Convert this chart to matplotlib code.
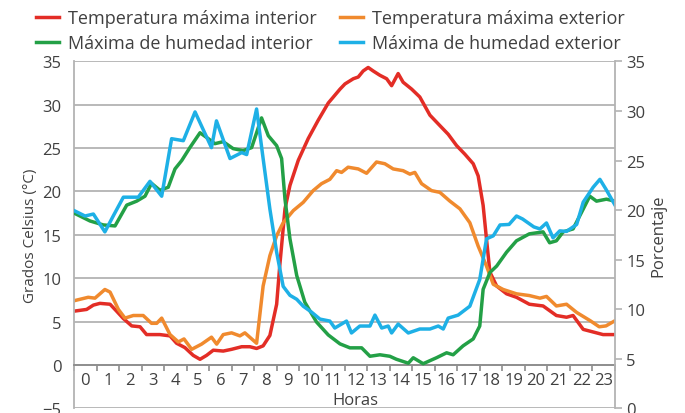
import numpy as np
import matplotlib
matplotlib.use("Agg")
import matplotlib.pyplot as plt

# hours of day (category labels) and series
hour_labels = [str(h) for h in range(24)]

# Temperatura máxima interior (°C)
red_x = [0.0, 0.56, 0.86, 1.15, 1.6, 1.89, 2.19, 2.56, 2.93, 3.22, 3.81, 4.26, 4.55, 4.92,
         5.29, 5.59, 5.88, 6.18, 6.62, 6.99, 7.44, 7.8, 8.1, 8.39, 8.69, 8.99, 9.13, 9.36,
         9.58, 9.95, 10.39, 10.83, 11.28, 11.8, 12.02, 12.39, 12.61, 12.83, 13.05, 13.27,
         13.57, 13.87, 14.09, 14.38, 14.6, 14.98, 15.34, 15.79, 16.23, 16.6, 16.97, 17.34,
         17.71, 17.93, 18.15, 18.3, 18.45, 18.75, 19.19, 19.63, 20.2, 20.81, 21.4, 21.85,
         22.14, 22.59, 23.03, 23.47, 24.0]
red_y = [6.2, 6.4, 6.9, 7.1, 7.0, 6.2, 5.35, 4.5, 4.4, 3.5, 3.5, 3.35, 2.5, 2.0,
         1.1, 0.65, 1.1, 1.7, 1.6, 1.8, 2.1, 2.1, 1.9, 2.2, 3.4, 7.0, 11.5, 18.0,
         20.7, 23.6, 26.1, 28.2, 30.2, 31.8, 32.4, 33.0, 33.2, 33.9, 34.3, 33.9,
         33.4, 33.0, 32.2, 33.6, 32.6, 31.8, 30.9, 28.8, 27.6, 26.6, 25.3, 24.3,
         23.2, 21.8, 18.4, 14.5, 10.7, 9.1, 8.2, 7.8, 7.0, 6.8, 5.7, 5.5,
         5.7, 4.1, 3.8, 3.5, 3.5]

# Temperatura máxima exterior (°C)
orange_x = [0.0, 0.63, 0.93, 1.37, 1.6, 1.97, 2.26, 2.63, 3.07, 3.44, 3.67, 3.89, 4.26,
            4.63, 4.88, 5.22, 5.66, 6.1, 6.33, 6.62, 6.99, 7.36, 7.58, 8.1, 8.39, 8.69,
            8.99, 9.28, 9.73, 10.17, 10.61, 10.98, 11.35, 11.65, 11.87, 12.16, 12.61,
            12.98, 13.42, 13.79, 14.16, 14.6, 14.9, 15.12, 15.42, 15.86, 16.23, 16.67,
            17.12, 17.56, 17.93, 18.3, 18.6, 19.04, 19.63, 20.2, 20.67, 20.96, 21.4,
            21.85, 22.3, 22.9, 23.3, 23.6, 24.0]
orange_y = [7.4, 7.8, 7.7, 8.7, 8.4, 6.4, 5.4, 5.7, 5.7, 4.8, 4.8, 5.4, 3.5,
            2.65, 3.0, 1.8, 2.4, 3.2, 2.4, 3.5, 3.7, 3.35, 3.7, 2.5, 9.1, 12.6,
            14.9, 16.4, 17.8, 18.75, 20.1, 20.9, 21.4, 22.4, 22.2, 22.8, 22.6,
            22.1, 23.4, 23.2, 22.6, 22.4, 22.0, 22.2, 20.9, 20.1, 19.9, 18.9,
            18.0, 16.4, 13.7, 11.4, 9.3, 8.7, 8.2, 8.0, 7.7, 7.9, 6.8,
            7.0, 6.05, 5.1, 4.4, 4.5, 5.1]

# Máxima de humedad interior (%)
green_x = [0.0, 0.71, 1.3, 1.82, 2.34, 2.78, 3.15, 3.44, 3.81, 4.18, 4.48, 4.78, 5.14,
           5.59, 5.96, 6.25, 6.62, 7.06, 7.5, 7.88, 8.32, 8.62, 8.99, 9.21, 9.36, 9.58,
           9.88, 10.24, 10.76, 11.28, 11.8, 12.24, 12.76, 13.13, 13.57, 14.01, 14.3,
           14.83, 15.05, 15.49, 16.08, 16.53, 16.82, 17.26, 17.71, 18.0, 18.15, 18.45,
           18.75, 19.19, 19.63, 20.2, 20.81, 21.1, 21.4, 21.7, 22.14, 22.59, 22.88,
           23.18, 23.62, 24.0]
green_y = [19.7, 18.9, 18.5, 18.4, 20.5, 20.9, 21.4, 22.7, 22.0, 22.3, 24.15, 25.0, 26.3,
           27.8, 27.2, 26.7, 26.9, 26.2, 26.0, 26.3, 29.3, 27.5, 26.5, 25.2, 21.1, 17.1,
           13.4, 10.7, 8.7, 7.4, 6.5, 6.1, 6.1, 5.25, 5.4, 5.25, 4.95,
           4.55, 5.1, 4.5, 5.1, 5.6, 5.4, 6.3, 7.0, 8.3, 12.0, 13.7,
           14.35, 15.75, 16.9, 17.6, 17.8, 16.7, 16.9, 17.8, 18.1, 20.1, 21.4,
           20.9, 21.1, 20.9]

# Máxima de humedad exterior (%)
blue_x = [0.0, 0.49, 0.86, 1.37, 1.74, 2.19, 2.85, 3.37, 3.89, 4.33, 4.85, 5.37, 6.1,
          6.32, 6.92, 7.44, 7.66, 8.1, 8.39, 8.69, 8.99, 9.28, 9.58, 9.88, 10.17, 10.54,
          10.91, 11.35, 11.57, 12.09, 12.31, 12.68, 13.13, 13.35, 13.65, 13.94, 14.09,
          14.38, 14.83, 15.34, 15.79, 16.16, 16.38, 16.6, 17.04, 17.56, 18.0, 18.3,
          18.6, 18.9, 19.3, 19.63, 19.9, 20.4, 20.67, 20.96, 21.25, 21.55, 21.85,
          22.3, 22.59, 23.03, 23.33, 23.6, 24.0]
blue_y = [19.95, 19.4, 19.6, 17.8, 19.4, 21.3, 21.3, 22.9, 21.4, 27.2, 27.0, 29.9, 26.3,
          29.0, 25.2, 25.8, 25.6, 30.2, 25.2, 20.1, 15.75, 12.3, 11.4, 11.0, 10.3, 9.7,
          9.0, 8.8, 8.1, 8.8, 7.6, 8.3, 8.3, 9.4, 8.1, 8.3, 7.6,
          8.5, 7.6, 8.0, 8.0, 8.3, 8.0, 9.1, 9.4, 10.3, 13.0, 17.1,
          17.4, 18.5, 18.55, 19.4, 19.1, 18.3, 18.1, 18.7, 17.2, 17.9, 17.85,
          18.55, 20.8, 22.3, 23.1, 22.1, 20.5]

RED = "#e32d26"
ORANGE = "#f08a2e"
GREEN = "#23a046"
BLUE = "#1eb0e6"
GRID = "#b3b3b3"
TXT = "#404040"

plt.rcParams["font.family"] = ["Open Sans", "DejaVu Sans"]

fig = plt.figure(figsize=(6.85, 4.14), dpi=100)
ax = fig.add_axes([74 / 685, 1 - 409.3 / 414, 541 / 685, 346.9 / 414])
ax2 = ax.twinx()

l1, = ax.plot(red_x, red_y, color=RED, lw=2.5, label="Temperatura máxima interior")
l2, = ax.plot(orange_x, orange_y, color=ORANGE, lw=2.5, label="Temperatura máxima exterior")
l3, = ax2.plot(green_x, green_y, color=GREEN, lw=2.5, label="Máxima de humedad interior")
l4, = ax2.plot(blue_x, blue_y, color=BLUE, lw=2.5, label="Máxima de humedad exterior")

ax.set_xlim(0, 24)
ax.set_ylim(-5, 35)
ax.set_yticks(np.arange(-5, 36, 5))
ax.yaxis.grid(True, color=GRID, lw=1.3)
ax.set_axisbelow(True)
ax.tick_params(axis="y", length=0, pad=9, labelsize=12, labelcolor=TXT)

ax.set_xticks(np.arange(0, 25, 1))
ax.set_xticklabels([])
ax.set_xticks(np.arange(24) + 0.5, labels=hour_labels, minor=True)
ax.tick_params(axis="x", which="major", direction="out", length=4, width=1.2, color="#8c8c8c")
ax.tick_params(axis="x", which="minor", length=0, pad=5, labelsize=12, labelcolor=TXT)
for t in ax.get_xticklabels(minor=True):
    t.set_fontfamily(["Liberation Sans Narrow", "DejaVu Sans"])

ax.spines["bottom"].set_position(("data", 0))
ax.spines["bottom"].set_color("#8c8c8c")
ax.spines["bottom"].set_linewidth(1.3)
ax.spines["top"].set_visible(False)
ax.spines["left"].set_color(GRID)
ax.spines["left"].set_linewidth(1.3)
ax.spines["right"].set_visible(False)

ax2.set_ylim(0, 35)
ax2.set_yticks(np.arange(0, 36, 5))
ax2.tick_params(axis="y", direction="out", length=5, width=1.2, color=GRID, pad=3,
                labelsize=12, labelcolor=TXT)
for s in ["top", "left", "bottom"]:
    ax2.spines[s].set_visible(False)
ax2.spines["right"].set_color(GRID)
ax2.spines["right"].set_linewidth(1.3)

ax.set_ylabel("Grados Celsius (°C)", fontsize=11, color=TXT, labelpad=3)
ax2.set_ylabel("Porcentaje", fontsize=12, color=TXT, labelpad=4)
ax.set_xlabel("Horas", fontsize=12, color=TXT)
ax.xaxis.set_label_coords(12.5 / 24, 0.047)

fig.legend(handles=[l1, l3, l2, l4], ncol=2, loc="upper left",
           bbox_to_anchor=(36 / 685, 1 - 10 / 414), frameon=False, fontsize=13,
           handlelength=1.3, handletextpad=0.5, columnspacing=1.25, labelspacing=0.38,
           borderpad=0, borderaxespad=0, labelcolor=TXT)

fig.savefig("out.png", dpi=100)
